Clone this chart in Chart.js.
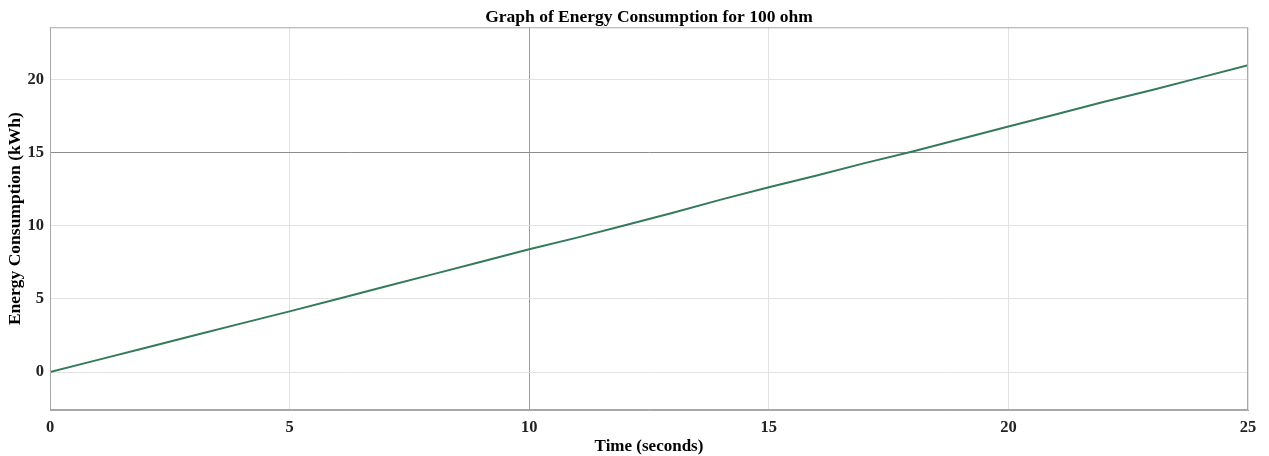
<!DOCTYPE html>
<html>
<head>
<meta charset="utf-8">
<script src="https://cdn.jsdelivr.net/npm/chart.js@4.4.1/dist/chart.umd.min.js"></script>
<style>
html,body{margin:0;padding:0;background:#fff;}
#wrap{width:1269px;height:456px;position:relative;}
</style>
</head>
<body>
<div id="wrap"><canvas id="c" width="1269" height="456"></canvas></div>
<script>
const timeSeconds = [0,1,2,3,4,5,6,7,8,9,10,11,12,13,14,15,16,17,18,19,20,21,22,23,24,25];
const energyKWh = [0,0.83,1.66,2.5,3.33,4.15,5.0,5.85,6.7,7.55,8.4,9.2,10.05,10.9,11.8,12.65,13.45,14.3,15.1,15.95,16.8,17.65,18.5,19.3,20.15,21.0];
const xTicks = [0,5,10,15,20,25];
const yTicks = [0,5,10,15,20];
const titleText = 'Graph of Energy Consumption for 100 ohm';
const xTitle = 'Time (seconds)';
const yTitle = 'Energy Consumption (kWh)';

const FONT = "'Liberation Serif','Times New Roman',serif";

const boxPlugin = {
  id: 'box',
  afterDatasetsDraw(chart) {
    const {ctx, chartArea: a} = chart;
    ctx.save();
    ctx.strokeStyle = '#a8a8a8';
    ctx.lineWidth = 1;
    ctx.strokeRect(a.left + 0.5, a.top + 0.5, a.right - a.left - 1, a.bottom - a.top - 1);
    ctx.restore();
  }
};

new Chart(document.getElementById('c'), {
  type: 'line',
  data: {
    datasets: [{
      data: timeSeconds.map((t, i) => ({x: t, y: energyKWh[i]})),
      borderColor: '#357a5a',
      borderWidth: 2,
      pointRadius: 0,
      tension: 0,
      fill: false
    }]
  },
  options: {
    responsive: false,
    animation: false,
    devicePixelRatio: 1,
    layout: {padding: {left: 0, right: 21, top: 0, bottom: 0}},
    plugins: {
      legend: {display: false},
      tooltip: {enabled: false},
      title: {
        display: true,
        fullSize: false,
        text: titleText,
        color: '#000',
        font: {family: FONT, size: 17.5, weight: 'bold', lineHeight: 1.1},
        padding: {top: 8, bottom: 0}
      }
    },
    scales: {
      x: {
        type: 'linear',
        min: 0, max: 25,
        afterBuildTicks: s => { s.ticks = xTicks.map(v => ({value: v})); },
        afterFit: s => { s.height = 46; },
        ticks: {color: '#222', font: {family: FONT, size: 16.5, weight: 'bold'}, padding: 8, maxRotation: 0},
        grid: {
          color: c => (c.tick && c.tick.value === 10) ? '#9c9c9c' : '#e2e2e2',
          tickLength: 0,
          drawTicks: false
        },
        border: {color: '#a8a8a8'},
        title: {display: true, text: xTitle, color: '#000', font: {family: FONT, size: 17, weight: 'bold', lineHeight: 1.1}, padding: {top: 0, bottom: 0}}
      },
      y: {
        type: 'linear',
        min: -2.6, max: 23.6,
        afterBuildTicks: s => { s.ticks = yTicks.map(v => ({value: v})); },
        afterFit: s => { s.width = 50; },
        ticks: {color: '#222', font: {family: FONT, size: 16.5, weight: 'bold'}, padding: 6},
        grid: {
          color: c => (c.tick && c.tick.value === 15) ? '#8c8c8c' : '#e2e2e2',
          tickLength: 0,
          drawTicks: false
        },
        border: {color: '#a8a8a8'},
        title: {display: true, text: yTitle, color: '#000', font: {family: FONT, size: 17.5, weight: 'bold', lineHeight: 1.2}, padding: {top: 5, bottom: 0}}
      }
    }
  },
  plugins: [boxPlugin]
});
</script>
</body>
</html>
